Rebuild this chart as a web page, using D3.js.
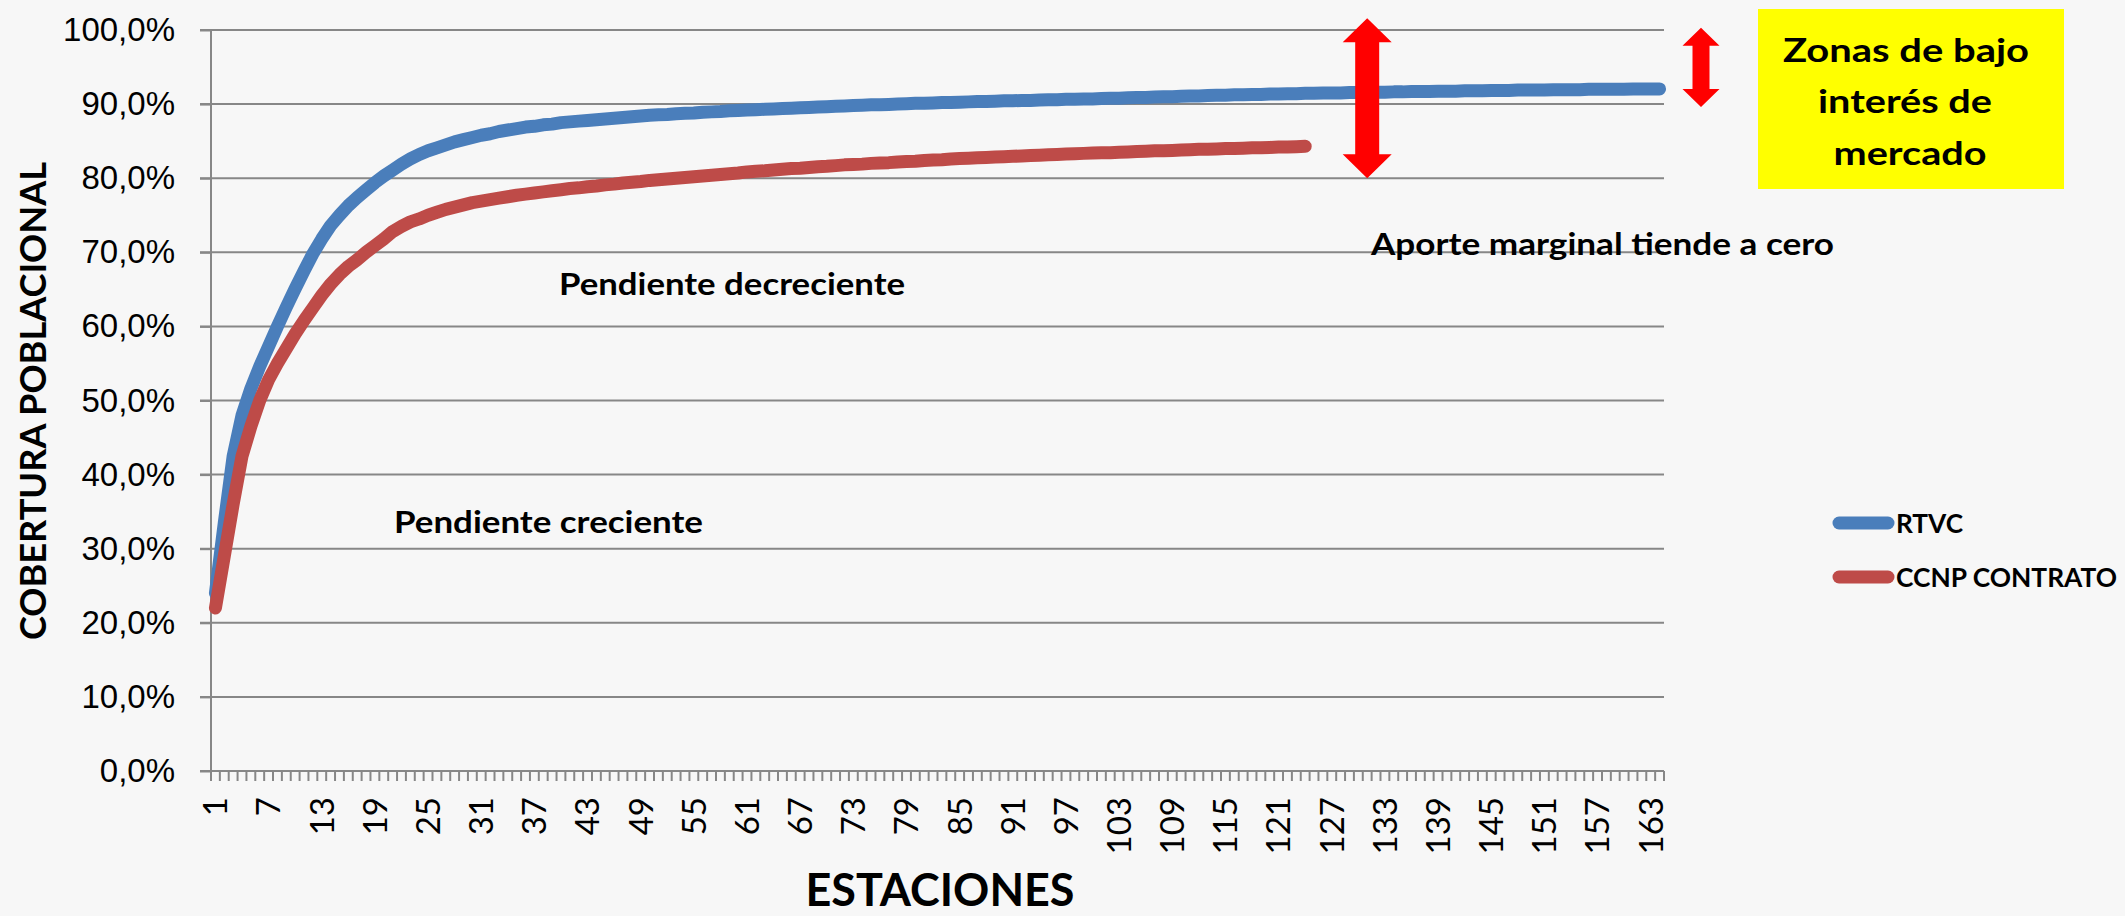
<!DOCTYPE html>
<html>
<head>
<meta charset="UTF-8">
<title>Cobertura poblacional</title>
<style>
  body { margin: 0; background: #f7f7f7; }
  svg { display: block; font-family: Lato, "Open Sans", sans-serif; }
  .axis text { font-size: 33px; fill: #000; }
  .axis path, .axis line { stroke: #878787; stroke-width: 2; }
  .grid line { stroke: #878787; stroke-width: 2; }
  .note { font-weight: bold; fill: #000; }
</style>
</head>
<body>
<svg width="2125" height="916"></svg>
<script src="https://d3js.org/d3.v7.min.js"></script>
<script>
// estaciones 1..164 (categorias del eje X)
const estaciones = d3.range(1, 165);
const xTickLabels = [1, 7, 13, 19, 25, 31, 37, 43, 49, 55, 61, 67, 73, 79, 85, 91, 97,
  103, 109, 115, 121, 127, 133, 139, 145, 151, 157, 163];
const yTicks = [0, 10, 20, 30, 40, 50, 60, 70, 80, 90, 100];

// cobertura acumulada (%)
const rtvc = [
  24.0, 33.5, 42.5, 48.0, 51.6, 54.6, 57.3, 60.0, 62.6, 65.1,
  67.5, 69.8, 71.8, 73.6, 75.0, 76.3, 77.4, 78.4, 79.4, 80.3,
  81.1, 81.9, 82.6, 83.2, 83.7, 84.1, 84.5, 84.9, 85.2, 85.5,
  85.8, 86.0, 86.3, 86.5, 86.7, 86.9, 87.0, 87.2, 87.3, 87.5,
  87.6, 87.7, 87.8, 87.9, 88.0, 88.1, 88.2, 88.3, 88.4, 88.5,
  88.55, 88.6, 88.7, 88.75, 88.8, 88.9, 88.95, 89.0, 89.1, 89.15,
  89.2, 89.25, 89.3, 89.35, 89.4, 89.45, 89.5, 89.55, 89.6, 89.65,
  89.7, 89.75, 89.8, 89.85, 89.9, 89.9, 89.95, 90.0, 90.05, 90.1,
  90.1, 90.15, 90.2, 90.2, 90.25, 90.3, 90.35, 90.35, 90.4, 90.45,
  90.45, 90.5, 90.5, 90.55, 90.6, 90.6, 90.65, 90.65, 90.7, 90.7,
  90.75, 90.8, 90.8, 90.85, 90.9, 90.9, 90.95, 91.0, 91.0, 91.05,
  91.1, 91.1, 91.15, 91.2, 91.2, 91.25, 91.25, 91.3, 91.3, 91.35,
  91.35, 91.4, 91.4, 91.45, 91.45, 91.5, 91.5, 91.5, 91.55, 91.55,
  91.6, 91.6, 91.6, 91.65, 91.65, 91.7, 91.7, 91.7, 91.75, 91.75,
  91.75, 91.8, 91.8, 91.8, 91.85, 91.85, 91.85, 91.9, 91.9, 91.9,
  91.9, 91.95, 91.95, 91.95, 91.95, 92.0, 92.0, 92.0, 92.0, 92.0,
  92.05, 92.05, 92.05, 92.05
];
const ccnp = [
  22.0, 29.0, 36.0, 42.5, 46.5, 50.0, 52.8, 55.0, 57.0, 59.0,
  60.8, 62.5, 64.2, 65.7, 67.0, 68.1, 69.0, 70.0, 70.9, 71.8,
  72.8, 73.5, 74.1, 74.5, 75.0, 75.4, 75.8, 76.1, 76.4, 76.7,
  76.9, 77.1, 77.3, 77.5, 77.7, 77.85, 78.0, 78.15, 78.3, 78.45,
  78.6, 78.7, 78.85, 78.95, 79.1, 79.2, 79.35, 79.45, 79.55, 79.7,
  79.8, 79.9, 80.0, 80.1, 80.2, 80.3, 80.4, 80.5, 80.6, 80.7,
  80.85, 80.95, 81.0, 81.1, 81.2, 81.3, 81.35, 81.45, 81.55, 81.6,
  81.7, 81.8, 81.85, 81.9, 82.0, 82.05, 82.1, 82.2, 82.25, 82.3,
  82.4, 82.45, 82.5, 82.6, 82.65, 82.7, 82.75, 82.8, 82.85, 82.9,
  82.95, 83.0, 83.05, 83.1, 83.15, 83.2, 83.25, 83.3, 83.35, 83.4,
  83.45, 83.45, 83.5, 83.55, 83.6, 83.65, 83.7, 83.7, 83.75, 83.8,
  83.85, 83.9, 83.9, 83.95, 84.0, 84.0, 84.05, 84.1, 84.1, 84.15,
  84.2, 84.2, 84.25, 84.3
];
const seriesNames = ['RTVC', 'CCNP CONTRATO'];
const colors = ['#4a7ebb', '#be4b48'];

const svg = d3.select('svg');
const plotL = 211, plotR = 1664, plotT = 30, plotB = 771;

const x = d3.scalePoint().domain(estaciones).range([plotL, plotR]).padding(0.5);
const xb = d3.scaleBand().domain(estaciones).range([plotL, plotR]);
const y = d3.scaleLinear().domain([0, 100]).range([plotB, plotT]);

// gridlines
svg.append('g').attr('class', 'grid')
  .selectAll('line').data(yTicks).join('line')
    .attr('x1', plotL - 11).attr('x2', plotR)
    .attr('y1', d => y(d)).attr('y2', d => y(d));

// y axis
const yAxis = svg.append('g').attr('class', 'axis')
  .attr('transform', `translate(${plotL},0)`)
  .call(d3.axisLeft(y).tickValues(yTicks).tickSize(11).tickPadding(25)
    .tickFormat(d => d.toFixed(1).replace('.', ',') + '%'));
yAxis.select('.domain').remove();
yAxis.append('line').attr('x1', 0).attr('x2', 0).attr('y1', plotT).attr('y2', plotB);

// x axis: ticks on category boundaries, labels every 6
const xAxis = svg.append('g').attr('class', 'axis')
  .attr('transform', `translate(0,${plotB})`);
xAxis.selectAll('line.b').data(estaciones.concat([165])).join('line')
  .attr('class', 'b')
  .attr('x1', d => d === 165 ? plotR : xb(d)).attr('x2', d => d === 165 ? plotR : xb(d))
  .attr('y1', 0).attr('y2', 10);
xAxis.selectAll('text').data(xTickLabels).join('text')
  .attr('transform', d => `translate(${x(d)},0) rotate(-90)`)
  .attr('x', -26).attr('dy', '0.36em')
  .attr('text-anchor', 'end')
  .text(d => d);

// series
const line = d3.line().x((d, i) => x(estaciones[i])).y(d => y(d));
[rtvc, ccnp].forEach((s, k) => {
  svg.append('path')
    .attr('d', line(s))
    .attr('fill', 'none')
    .attr('stroke', colors[k])
    .attr('stroke-width', 13)
    .attr('stroke-linejoin', 'round')
    .attr('stroke-linecap', 'round');
});

// axis titles
svg.append('text').attr('class', 'note')
  .attr('transform', 'translate(46,401) rotate(-90)')
  .attr('text-anchor', 'middle')
  .attr('font-size', 37)
  .attr('textLength', 478).attr('lengthAdjust', 'spacingAndGlyphs')
  .text('COBERTURA POBLACIONAL');
svg.append('text').attr('class', 'note')
  .attr('x', 940).attr('y', 906)
  .attr('text-anchor', 'middle')
  .attr('font-size', 46)
  .attr('textLength', 269).attr('lengthAdjust', 'spacingAndGlyphs')
  .text('ESTACIONES');

// legend
const legend = svg.append('g');
seriesNames.forEach((n, k) => {
  const ly = 523 + k * 54;
  legend.append('line')
    .attr('x1', 1839).attr('x2', 1888).attr('y1', ly).attr('y2', ly)
    .attr('stroke', colors[k]).attr('stroke-width', 13).attr('stroke-linecap', 'round');
  legend.append('text').attr('class', 'note')
    .attr('x', 1896).attr('y', ly + 10)
    .attr('font-size', 27)
    .attr('textLength', k === 0 ? 67 : 221).attr('lengthAdjust', 'spacingAndGlyphs')
    .text(n);
});

// annotations
const notes = [
  { t: 'Pendiente decreciente', x: 559, y: 295, w: 346, fs: 30 },
  { t: 'Pendiente creciente', x: 394, y: 533, w: 309, fs: 30 },
  { t: 'Aporte marginal tiende a cero', x: 1371, y: 255, w: 463, fs: 31 }
];
notes.forEach(n => {
  svg.append('text').attr('class', 'note')
    .attr('x', n.x).attr('y', n.y).attr('font-size', n.fs)
    .attr('textLength', n.w).attr('lengthAdjust', 'spacingAndGlyphs')
    .text(n.t);
});

// yellow box
svg.append('rect').attr('x', 1758).attr('y', 9).attr('width', 306).attr('height', 180)
  .attr('fill', '#ffff00');
const boxLines = [
  { t: 'Zonas de bajo', x: 1906, y: 62, w: 246 },
  { t: 'interés de', x: 1905, y: 113, w: 174 },
  { t: 'mercado', x: 1910, y: 165, w: 153 }
];
boxLines.forEach(b => {
  svg.append('text').attr('class', 'note')
    .attr('x', b.x).attr('y', b.y).attr('text-anchor', 'middle')
    .attr('font-size', 32)
    .attr('textLength', b.w).attr('lengthAdjust', 'spacingAndGlyphs')
    .text(b.t);
});

// red double arrows
function dblArrow(cx, y1, y2, headW, headH, shaftW) {
  const p = [
    [cx, y1], [cx + headW / 2, y1 + headH], [cx + shaftW / 2, y1 + headH],
    [cx + shaftW / 2, y2 - headH], [cx + headW / 2, y2 - headH], [cx, y2],
    [cx - headW / 2, y2 - headH], [cx - shaftW / 2, y2 - headH],
    [cx - shaftW / 2, y1 + headH], [cx - headW / 2, y1 + headH]
  ];
  svg.append('polygon').attr('points', p.map(d => d.join(',')).join(' '))
    .attr('fill', '#ff0000');
}
dblArrow(x(131), y(101.6), y(80), 49, 24, 24);
dblArrow(1701, y(100.3), y(89.6), 37, 18, 17);
</script>
</body>
</html>
